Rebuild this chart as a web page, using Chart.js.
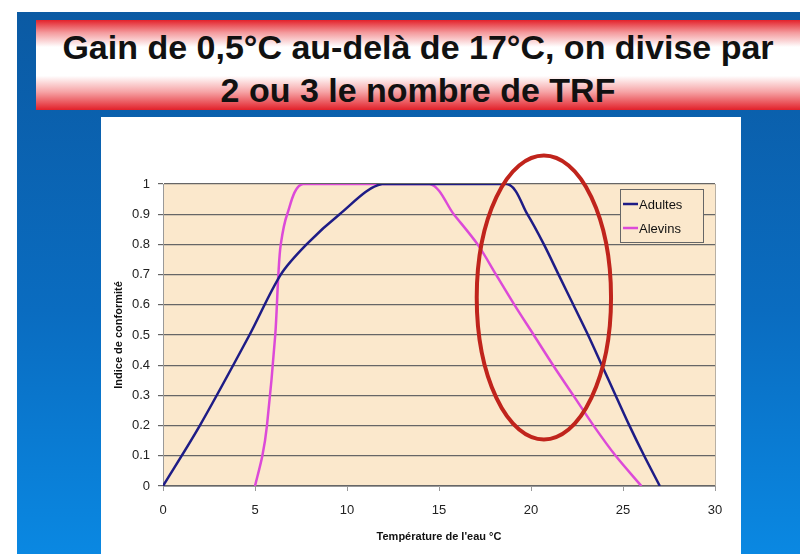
<!DOCTYPE html>
<html>
<head>
<meta charset="utf-8">
<script src="https://cdn.jsdelivr.net/npm/chart.js@4.4.1/dist/chart.umd.min.js"></script>
<style>
  html, body { margin: 0; padding: 0; }
  body { width: 800px; height: 554px; position: relative; overflow: hidden; background: #fff; font-family: "Liberation Sans", Arial, sans-serif; }
  .slide { position: absolute; left: 17px; top: 12px; right: 0; bottom: 0;
    background: linear-gradient(to bottom, #0b5aa3 0%, #0a6cc0 55%, #0a88e2 100%); }
  .title { position: absolute; left: 36px; top: 20px; width: 764px; height: 90px;
    background: linear-gradient(to bottom, #e3222b 0%, #f49a9d 14%, #fff 30%, #fff 62%, #f6a3a5 80%, #e2212a 100%);
    text-align: center; font-weight: bold; font-size: 34px; line-height: 43px; color: #111;
    box-sizing: border-box; padding-top: 6px; }
  .panel { position: absolute; left: 101px; top: 117px; width: 640px; height: 437px; background: #fff; }
</style>
</head>
<body>
<div class="slide"></div>
<div class="title">Gain de 0,5°C au-delà de 17°C, on divise par<br>2 ou 3 le nombre de TRF</div>
<div class="panel"><canvas id="chart" width="640" height="437"></canvas></div>
<script>
// Adultes (blue)
const adultesX = [0, 2, 4.7, 6.4, 7.8, 9.6, 11.9, 18.7, 19.8, 20.7, 21.5, 22.3, 23.1, 23.85, 24.6, 25.35, 26.15, 27];
const adultesY = [0, 0.2, 0.5, 0.7, 0.8, 0.9, 1, 1, 0.9, 0.8, 0.7, 0.6, 0.5, 0.4, 0.3, 0.2, 0.1, 0];
// Alevins (pink)
const alevinsX = [5, 5.4, 5.65, 6.1, 6.27, 6.4, 6.75, 7.6, 14.5, 15.8, 17.1, 18.1, 19.1, 20.15, 21.2, 22.3, 23.4, 24.6, 26];
const alevinsY = [0, 0.1, 0.2, 0.5, 0.7, 0.8, 0.9, 1, 1, 0.9, 0.8, 0.7, 0.6, 0.5, 0.4, 0.3, 0.2, 0.1, 0];

const xTicks = [0, 5, 10, 15, 20, 25, 30];
const yTicks = [0, 0.1, 0.2, 0.3, 0.4, 0.5, 0.6, 0.7, 0.8, 0.9, 1];

// red ellipse highlighting the 17-24 °C zone (data units)
const ellipseCenter = [20.7, 0.624];
const ellipseRadius = [3.65, 0.47];

const toPoints = (xs, ys) => xs.map((x, i) => ({ x: x, y: ys[i] }));

const tickFont = { family: "'Liberation Sans', Arial, sans-serif", size: 13 };
const titleFont = { family: "'Liberation Sans', Arial, sans-serif", size: 11, weight: "bold" };

const plotBg = {
  id: "plotBg",
  beforeDraw(chart) {
    const { ctx, chartArea: a } = chart;
    ctx.save();
    ctx.fillStyle = "#fbe8cc";
    ctx.fillRect(a.left, a.top, a.right - a.left, a.bottom - a.top);
    ctx.strokeStyle = "#b8b0a4";
    ctx.lineWidth = 1;
    ctx.beginPath();
    ctx.moveTo(a.right + 0.5, a.top);
    ctx.lineTo(a.right + 0.5, a.bottom);
    ctx.stroke();
    ctx.restore();
  }
};

const boxLegend = {
  id: "boxLegend",
  afterDatasetsDraw(chart) {
    const { ctx, chartArea: a } = chart;
    const w = 83, h = 53;
    const x0 = a.right - 12 - w, y0 = a.top + 5;
    ctx.save();
    ctx.fillStyle = "#fbe8cc";
    ctx.fillRect(x0, y0, w, h);
    ctx.strokeStyle = "#666";
    ctx.lineWidth = 1;
    ctx.strokeRect(x0 + 0.5, y0 + 0.5, w, h);
    ctx.font = "13px 'Liberation Sans', Arial, sans-serif";
    ctx.textBaseline = "middle";
    chart.data.datasets.forEach((ds, i) => {
      const y = y0 + 15 + i * 24;
      ctx.strokeStyle = ds.borderColor;
      ctx.lineWidth = 2.5;
      ctx.beginPath();
      ctx.moveTo(x0 + 3, y);
      ctx.lineTo(x0 + 18, y);
      ctx.stroke();
      ctx.fillStyle = "#111";
      ctx.fillText(ds.label, x0 + 19, y + 1);
    });
    ctx.restore();
  }
};

const ellipse = {
  id: "ellipse",
  afterDraw(chart) {
    const { ctx, scales } = chart;
    const cx = scales.x.getPixelForValue(ellipseCenter[0]);
    const cy = scales.y.getPixelForValue(ellipseCenter[1]);
    const rx = Math.abs(scales.x.getPixelForValue(ellipseCenter[0] + ellipseRadius[0]) - cx);
    const ry = Math.abs(scales.y.getPixelForValue(ellipseCenter[1] + ellipseRadius[1]) - cy);
    ctx.save();
    ctx.strokeStyle = "#c0241c";
    ctx.lineWidth = 4;
    ctx.beginPath();
    ctx.ellipse(cx, cy, rx, ry, 0, 0, Math.PI * 2);
    ctx.stroke();
    ctx.restore();
  }
};

new Chart(document.getElementById("chart"), {
  type: "scatter",
  data: {
    datasets: [
      {
        label: "Adultes",
        data: toPoints(adultesX, adultesY),
        showLine: true,
        borderColor: "#1e1c86",
        borderWidth: 2.5,
        pointRadius: 0,
        tension: 0.3
      },
      {
        label: "Alevins",
        data: toPoints(alevinsX, alevinsY),
        showLine: true,
        borderColor: "#dc4ad8",
        borderWidth: 2.5,
        pointRadius: 0,
        tension: 0.3
      }
    ]
  },
  options: {
    responsive: false,
    animation: false,
    layout: { padding: { top: 67, right: 26, left: 0, bottom: 0 } },
    elements: { line: { capBezierPoints: true } },
    plugins: {
      legend: { display: false },
      tooltip: { enabled: false }
    },
    scales: {
      x: {
        type: "linear",
        min: 0,
        max: 30,
        afterBuildTicks: (s) => { s.ticks = xTicks.map(v => ({ value: v })); },
        afterFit: (s) => { s.height = 68; },
        ticks: { color: "#222", font: tickFont, padding: 12 },
        grid: { drawOnChartArea: false, tickLength: 5, color: "#999" },
        border: { color: "#999" },
        title: { display: true, text: "Température de l'eau °C", color: "#111", font: titleFont, padding: { top: 6, bottom: 10 } }
      },
      y: {
        min: 0,
        max: 1,
        afterBuildTicks: (s) => { s.ticks = yTicks.map(v => ({ value: v })); },
        afterFit: (s) => { s.width = 62; },
        ticks: { color: "#222", font: tickFont, padding: 8, callback: (v) => String(Math.round(v * 10) / 10) },
        grid: { color: "#666", lineWidth: 1.2, tickLength: 5 },
        border: { color: "#999" },
        title: { display: true, text: "Indice de conformité", color: "#111", font: titleFont, padding: { top: 11, bottom: 0 } }
      }
    }
  },
  plugins: [plotBg, boxLegend, ellipse]
});
</script>
</body>
</html>
